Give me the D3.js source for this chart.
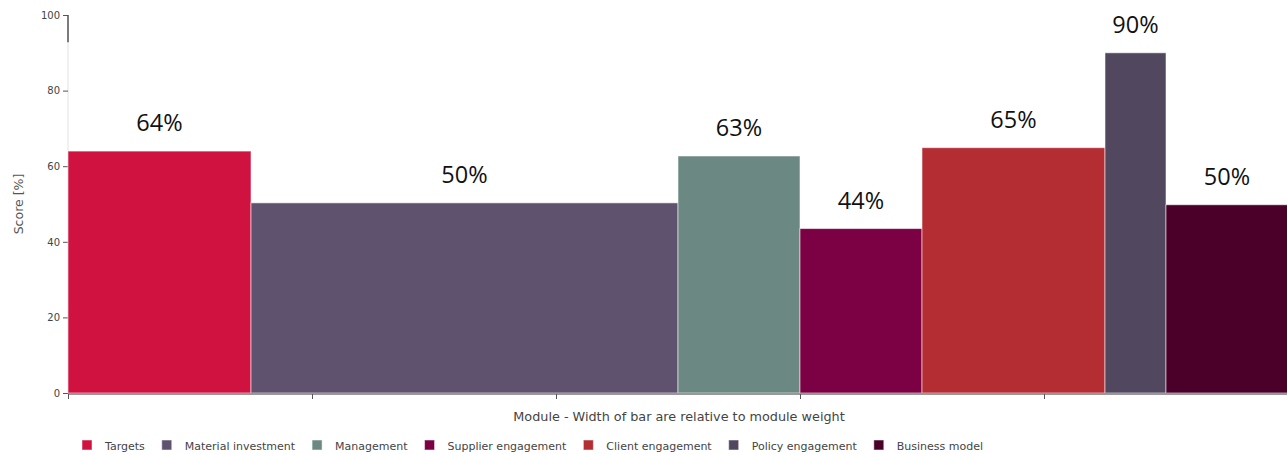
<!DOCTYPE html>
<html>
<head>
<meta charset="utf-8">
<script src="https://cdn.jsdelivr.net/npm/d3@7"></script>
<style>
  html, body { margin: 0; padding: 0; background: #fff; overflow: hidden; }
  svg { display: block; }
</style>
</head>
<body>
<svg id="chart" width="1287" height="454"></svg>
<script>
// ---- data ----
const modules = ["Targets", "Material investment", "Management", "Supplier engagement", "Client engagement", "Policy engagement", "Business model"];
const weights = [3, 7, 2, 2, 3, 1, 2];
const scores = [64, 50.3, 62.7, 43.5, 64.9, 90, 49.8];
const colors = ["#D01241", "#5F526F", "#6C8882", "#7C0044", "#B32D33", "#51475F", "#4A0029"];
const yTicks = [0, 20, 40, 60, 80, 100];
const xTicks = [0, 4, 8, 12, 16, 20];
const xTitle = "Module - Width of bar are relative to module weight";
const yTitle = "Score [%]";

// ---- layout ----
const margin = { left: 68, top: 15 };
const plotW = 1220, plotH = 378;
const svg = d3.select("#chart");
const g = svg.append("g").attr("transform", `translate(${margin.left},${margin.top})`);

const total = d3.sum(weights);
const x = d3.scaleLinear().domain([0, total]).range([0, plotW]);
const y = d3.scaleLinear().domain([0, 100]).range([plotH, 0]);

const starts = [];
weights.reduce((acc, w, i) => { starts[i] = acc; return acc + w; }, 0);
const rows = modules.map((m, i) => ({ m, w: weights[i], s: scores[i], c: colors[i], x0: starts[i] }));

// y axis
const yAxis = g.append("g").call(d3.axisLeft(y).tickValues(yTicks).tickSize(5).tickPadding(3));
yAxis.select(".domain").attr("stroke", "#e2e2e2").attr("d", `M0,${y(100)}V${y(0)}`);
yAxis.append("line").attr("x1", 0).attr("x2", 0).attr("y1", y(100)).attr("y2", y(92.8))
  .attr("stroke", "#555").attr("stroke-width", 1.5);
yAxis.selectAll(".tick line").attr("stroke", "#555");
yAxis.selectAll(".tick text").attr("fill", "#444").style("font-family", "DejaVu Sans").style("font-size", "10px");

// bars
g.selectAll("rect.bar").data(rows).enter().append("rect")
  .attr("class", "bar")
  .attr("x", d => x(d.x0))
  .attr("width", d => x(d.x0 + d.w) - x(d.x0))
  .attr("y", d => y(d.s))
  .attr("height", d => y(0) - y(d.s))
  .attr("fill", d => d.c)
  .attr("stroke", "#fff").attr("stroke-opacity", 0.55).attr("stroke-width", 1);

// value labels
g.selectAll("text.val").data(rows).enter().append("text")
  .attr("class", "val")
  .attr("x", d => x(d.x0 + d.w / 2))
  .attr("y", d => y(d.s) - 20)
  .attr("text-anchor", "middle")
  .style("font-family", "Open Sans")
  .style("font-size", "23.5px")
  .attr("fill", "#111")
  .text(d => Math.round(d.s) + "%");

// x axis
const xAxis = g.append("g").attr("transform", `translate(0,${plotH + 1})`)
  .call(d3.axisBottom(x).tickValues(xTicks).tickSize(5).tickFormat(""));
xAxis.select(".domain").attr("stroke", "#999").attr("stroke-width", 2).attr("d", `M0,0H${plotW}`);
xAxis.selectAll(".tick line").attr("stroke", "#555");

// axis titles
svg.append("text")
  .attr("x", 679).attr("y", 421)
  .attr("text-anchor", "middle")
  .style("font-family", "DejaVu Sans").style("font-size", "12.8px").attr("fill", "#444")
  .text(xTitle);
svg.append("text")
  .attr("transform", `translate(23,${margin.top + y(50)}) rotate(-90)`)
  .attr("text-anchor", "middle")
  .style("font-family", "DejaVu Sans").style("font-size", "12.5px").attr("fill", "#555")
  .text(yTitle);

// legend
const legend = svg.append("g").attr("transform", "translate(82,440)");
let lx = 0;
rows.forEach(d => {
  const item = legend.append("g").attr("transform", `translate(${lx},0)`);
  item.append("rect").attr("width", 10).attr("height", 10).attr("fill", d.c)
    .attr("stroke", "#fff").attr("stroke-opacity", 0.5);
  const t = item.append("text").attr("x", 23).attr("y", 9.5)
    .style("font-family", "DejaVu Sans").style("font-size", "11px").attr("fill", "#444")
    .text(d.m);
  lx += 23 + t.node().getComputedTextLength() + 17;
});
</script>
</body>
</html>
